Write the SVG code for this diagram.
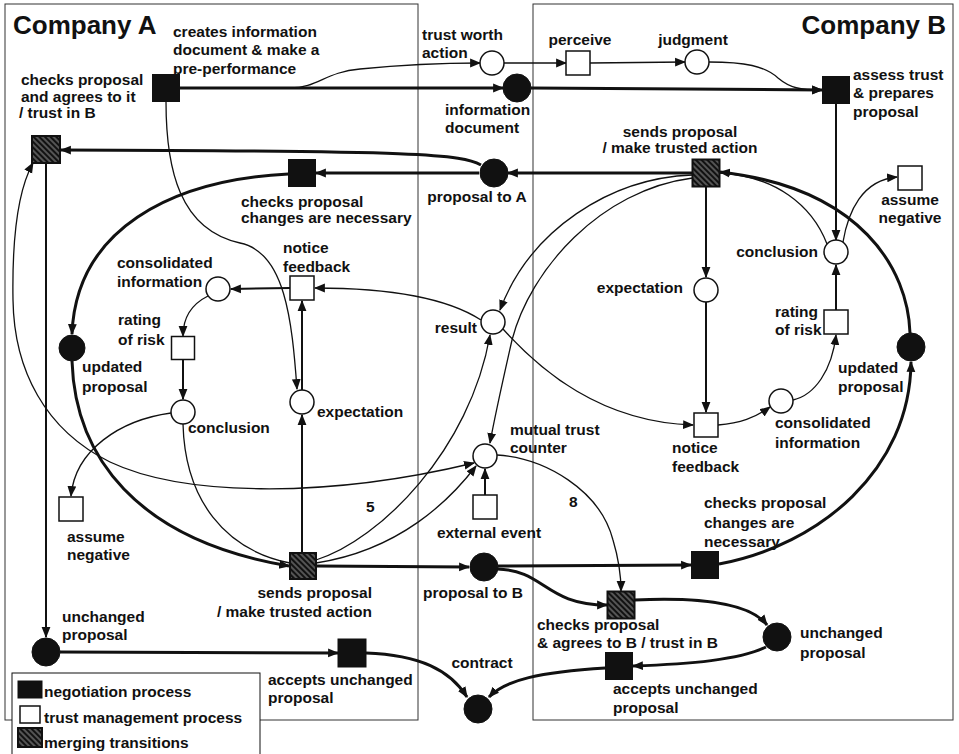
<svg xmlns="http://www.w3.org/2000/svg" width="959" height="754" viewBox="0 0 959 754">
<defs>
<style>
.t{font-family:"Liberation Sans",Arial,sans-serif;font-weight:bold;font-size:15.5px;fill:#111}
.ti{font-size:26px}
.m{text-anchor:middle}
.e{text-anchor:end}
.c{fill:none;stroke:#111;marker-end:url(#ah)}
.k{stroke-width:3}
.d{stroke-width:2}
.n{stroke-width:1.3}
.nm{marker-end:none}
.blk{fill:#111;stroke:#111;stroke-width:1}
.wht{fill:#fff;stroke:#111;stroke-width:1.5}
.hat{fill:url(#hatch);stroke:#111;stroke-width:2}
.fr{fill:none;stroke:#333;stroke-width:1}
</style>
<pattern id="hatch" patternUnits="userSpaceOnUse" width="4" height="4" patternTransform="rotate(-45)">
<rect width="4" height="4" fill="#111"/>
<line x1="1" y1="0" x2="1" y2="4" stroke="#bbb" stroke-width="0.8"/>
</pattern>
<marker id="ah" viewBox="0 0 10 10" refX="9" refY="5" markerWidth="11" markerHeight="11" markerUnits="userSpaceOnUse" orient="auto-start-reverse">
<path d="M0,1 L10,5 L0,9 z" fill="#111"/>
</marker>
</defs>
<rect width="959" height="754" fill="#fff"/>

<g id="frames">
<rect class="fr" x="5" y="4" width="413" height="716"/>
<rect class="fr" x="533" y="4" width="420" height="716"/>
<text class="t ti" x="13" y="34">Company A</text>
<text class="t ti e" x="946" y="34">Company B</text>
</g>

<g id="connectors">
<path class="c k" d="M179.5 88 L503 88"/>
<path class="c n" d="M290 88 C318 88,325 72,360 69 C400 65,440 63,480 63"/>
<path class="c n" d="M504 63 L566 63"/>
<path class="c n" d="M590 63 L685 62"/>
<path class="c n" d="M709 62 C745 62,765 66,778 78 C790 88,800 90,822 90"/>
<path class="c k" d="M531 88 L822 90"/>
<path class="c d" d="M836 103.5 L836 240"/>
<path class="c n" d="M843 242 C848 212,862 180,897 177"/>
<path class="c n nm" d="M827 244 C812 205,775 176,720 173"/>
<path class="c k" d="M910 333 C908 270,862 188,720 172"/>
<path class="c k" d="M692.5 173 L508 173"/>
<path class="c k" d="M481 165 C462 154,420 151,61 150"/>
<path class="c k" d="M479 173 L316 173"/>
<path class="c k" d="M288.5 174 C170 180,76 230,72 334"/>
<path class="c k" d="M72 361 C75 455,135 540,289 566"/>
<path class="c n nm" d="M183 424 C185 500,225 550,290 563"/>
<path class="c k" d="M316 566 L469 567"/>
<path class="c k" d="M498 566 L691 565"/>
<path class="c k" d="M497 569 C545 570,545 605,607 605"/>
<path class="c k" d="M634.5 600 C700 597,750 603,767 625"/>
<path class="c k" d="M766 647 C740 660,690 664,633 666"/>
<path class="c k" d="M605.5 668 C540 672,505 680,489 697"/>
<path class="c k" d="M366 653 C420 655,450 670,467 697"/>
<path class="c k" d="M60 652 L338 653"/>
<path class="c d" d="M46 164 L46 637"/>
<path class="c k" d="M719 564 C820 545,910 470,911 362"/>
<path class="c d" d="M706 186.5 L706 277"/>
<path class="c d" d="M706 302 L706 412"/>
<path class="c n" d="M718 425 C740 423,755 418,770 407"/>
<path class="c n" d="M793 400 C815 395,832 370,836 335"/>
<path class="c d" d="M836 310 L836 265"/>
<path class="c n" d="M692.5 175 C610 178,530 230,500 310"/>
<path class="c n" d="M692.5 178 C600 190,530 270,512 340 C503 380,495 415,490 443"/>
<path class="c n" d="M481 320 C450 300,400 288,315 288"/>
<path class="c n" d="M503 329 C540 370,600 422,693 425"/>
<path class="c n" d="M316 560 C380 540,470 450,490 335"/>
<path class="c n" d="M316 563 C400 550,450 500,476 466"/>
<path class="c n" style="marker-start:url(#ah)" d="M33 163 C18 190,12 240,13 300 C14 370,45 430,110 462 C180 495,320 500,474 463"/>
<path class="c n" d="M497 455 C545 458,600 490,613 540 C619 560,621 575,621 591"/>
<path class="c d" d="M485 495 L485 469"/>
<path class="c n" d="M166 101.5 C166 170,180 230,240 243 C285 252,292 320,297 389"/>
<path class="c d" d="M290 288 L231 289"/>
<path class="c n" d="M208 296 C190 305,183 320,183 336"/>
<path class="c d" d="M183 360 L183 399"/>
<path class="c n" d="M171 413 C120 420,75 450,71 496"/>
<path class="c d" d="M302 390 L302 301"/>
<path class="c d" d="M302 553 L302 415"/>
</g>

<g id="t-create"><rect class="blk" x="152.5" y="74.5" width="27" height="27"/>
<text class="t" x="173" y="37">creates information</text><text class="t" x="173" y="55">document &amp; make a</text><text class="t" x="173" y="74">pre-performance</text></g>
<g id="t-checks-agree-a"><rect class="hat" x="32" y="136" width="28" height="27"/>
<text class="t" x="21" y="85">checks proposal</text><text class="t" x="21" y="102">and agrees to it</text><text class="t" x="19" y="118">/ trust in B</text></g>
<g id="t-check-changes-a"><rect class="blk" x="288.5" y="159.5" width="27" height="27"/>
<text class="t" x="241" y="207">checks proposal</text><text class="t" x="241" y="223">changes are necessary</text></g>
<g id="p-proposal-to-a"><circle class="blk" cx="494" cy="173" r="14"/>
<text class="t m" x="477" y="202">proposal to A</text></g>
<g id="p-info-doc"><circle class="blk" cx="517" cy="88" r="14"/>
<text class="t" x="445" y="115">information</text><text class="t" x="445" y="133">document</text></g>
<g id="p-trust-worth"><circle class="wht" cx="492" cy="63" r="12"/>
<text class="t" x="422" y="40">trust worth</text><text class="t" x="422" y="58">action</text></g>
<g id="t-perceive"><rect class="wht" x="566" y="51" width="24" height="24"/>
<text class="t m" x="580" y="45">perceive</text></g>
<g id="p-judgment"><circle class="wht" cx="697" cy="62" r="12"/>
<text class="t m" x="693" y="45">judgment</text></g>
<g id="t-assess"><rect class="blk" x="822.5" y="76.5" width="27" height="27"/>
<text class="t" x="853" y="80">assess trust</text><text class="t" x="853" y="98">&amp; prepares</text><text class="t" x="853" y="117">proposal</text></g>
<g id="t-sends-b"><rect class="hat" x="692.5" y="159.5" width="27" height="27"/>
<text class="t m" x="680" y="137">sends proposal</text><text class="t m" x="680" y="153">/ make trusted action</text></g>
<g id="t-assume-b"><rect class="wht" x="898" y="166" width="24" height="24"/>
<text class="t m" x="910" y="205">assume</text><text class="t m" x="910" y="223">negative</text></g>
<g id="p-conclusion-b"><circle class="wht" cx="836" cy="252" r="12"/>
<text class="t e" x="818" y="257">conclusion</text></g>
<g id="p-expectation-b"><circle class="wht" cx="706" cy="290" r="12"/>
<text class="t e" x="683" y="293">expectation</text></g>
<g id="t-rating-b"><rect class="wht" x="824" y="310" width="24" height="24"/>
<text class="t" x="775" y="317">rating</text><text class="t" x="775" y="335">of risk</text></g>
<g id="p-updated-b"><circle class="blk" cx="911" cy="347" r="14"/>
<text class="t" x="838" y="373">updated</text><text class="t" x="838" y="392">proposal</text></g>
<g id="p-result"><circle class="wht" cx="493" cy="322" r="12"/>
<text class="t e" x="477" y="333">result</text></g>
<g id="t-notice-b"><rect class="wht" x="694" y="413" width="24" height="24"/>
<text class="t" x="672" y="453">notice</text><text class="t" x="672" y="472">feedback</text></g>
<g id="p-consolidated-b"><circle class="wht" cx="781" cy="401" r="12"/>
<text class="t" x="775" y="428">consolidated</text><text class="t" x="775" y="448">information</text></g>
<g id="p-mutual-trust"><circle class="wht" cx="485" cy="456" r="12"/>
<text class="t" x="510" y="435">mutual trust</text><text class="t" x="510" y="453">counter</text></g>
<g id="t-external"><rect class="wht" x="473" y="495" width="24" height="24"/>
<text class="t m" x="489" y="538">external event</text></g>
<g id="labels-num"><text class="t" x="366" y="512">5</text><text class="t" x="569" y="507">8</text></g>
<g id="t-check-changes-b"><rect class="blk" x="691.5" y="551.5" width="27" height="27"/>
<text class="t" x="704" y="508">checks proposal</text><text class="t" x="704" y="528">changes are</text><text class="t" x="704" y="547">necessary</text></g>
<g id="p-proposal-to-b"><circle class="blk" cx="484" cy="567" r="14"/>
<text class="t m" x="473" y="598">proposal to B</text></g>
<g id="t-sends-a"><rect class="hat" x="290" y="553" width="26" height="26"/>
<text class="t e" x="372" y="598">sends proposal</text><text class="t e" x="372" y="617">/ make trusted action</text></g>
<g id="t-checks-agree-b"><rect class="hat" x="607.5" y="591.5" width="27" height="27"/>
<text class="t" x="537" y="630">checks proposal</text><text class="t" x="537" y="648">&amp; agrees to B / trust in B</text></g>
<g id="p-unchanged-b"><circle class="blk" cx="777" cy="637" r="14"/>
<text class="t" x="800" y="638">unchanged</text><text class="t" x="800" y="658">proposal</text></g>
<g id="t-accepts-b"><rect class="blk" x="605.5" y="652.5" width="27" height="27"/>
<text class="t" x="613" y="694">accepts unchanged</text><text class="t" x="613" y="713">proposal</text></g>
<g id="p-contract"><circle class="blk" cx="478" cy="709" r="14"/>
<text class="t m" x="482" y="668">contract</text></g>
<g id="p-unchanged-a"><circle class="blk" cx="46" cy="652" r="14"/>
<text class="t" x="62" y="622">unchanged</text><text class="t" x="62" y="640">proposal</text></g>
<g id="t-accepts-a"><rect class="blk" x="338" y="639" width="28" height="28"/>
<text class="t" x="268" y="685">accepts unchanged</text><text class="t" x="268" y="703">proposal</text></g>
<g id="t-assume-a"><rect class="wht" x="59" y="497" width="24" height="24"/>
<text class="t" x="67" y="542">assume</text><text class="t" x="67" y="560">negative</text></g>
<g id="p-conclusion-a"><circle class="wht" cx="183" cy="412" r="12"/>
<text class="t" x="188" y="433">conclusion</text></g>
<g id="t-rating-a"><rect class="wht" x="171.5" y="336.5" width="23" height="23"/>
<text class="t" x="118" y="325">rating</text><text class="t" x="118" y="345">of risk</text></g>
<g id="p-consolidated-a"><circle class="wht" cx="218" cy="289" r="12"/>
<text class="t" x="117" y="268">consolidated</text><text class="t" x="117" y="287">information</text></g>
<g id="t-notice-a"><rect class="wht" x="290" y="276" width="24" height="24"/>
<text class="t" x="283" y="253">notice</text><text class="t" x="283" y="272">feedback</text></g>
<g id="p-expectation-a"><circle class="wht" cx="302" cy="402" r="12"/>
<text class="t" x="317" y="417">expectation</text></g>
<g id="p-updated-a"><circle class="blk" cx="72" cy="348" r="13"/>
<text class="t" x="82" y="372">updated</text><text class="t" x="82" y="392">proposal</text></g>

<g id="legend">
<rect x="12" y="673" width="248" height="90" fill="#fff" stroke="#111" stroke-width="1"/>
<rect class="blk" x="18" y="681" width="24" height="17"/>
<text class="t" x="44" y="697">negotiation process</text>
<rect class="wht" x="20" y="706" width="20" height="17"/>
<text class="t" x="44" y="723">trust management process</text>
<rect class="hat" x="18" y="728" width="24" height="19"/>
<text class="t" x="44" y="748">merging transitions</text>
</g>
</svg>
